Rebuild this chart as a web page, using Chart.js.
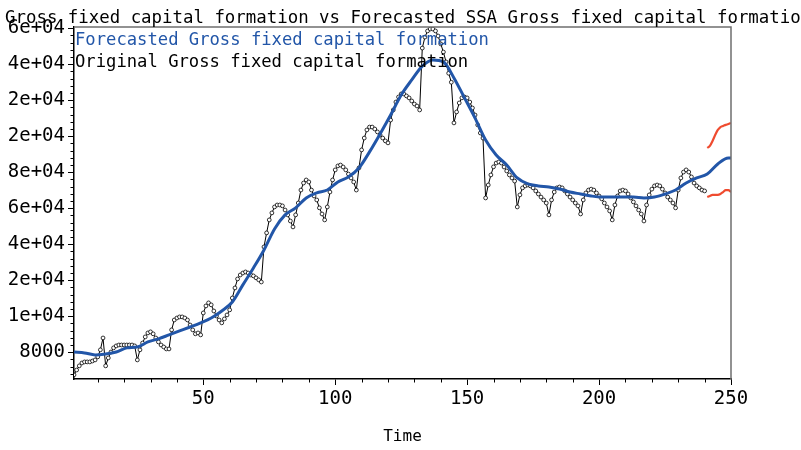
<!DOCTYPE html>
<html>
<head>
<meta charset="utf-8">
<script src="https://cdn.jsdelivr.net/npm/chart.js@4.4.1/dist/chart.umd.min.js"></script>
<style>
  html, body { margin: 0; padding: 0; background: #fff; }
  #wrap { width: 801px; height: 450px; }
</style>
</head>
<body>
<div id="wrap"><canvas id="ssaChart" width="801" height="450"></canvas></div>
<script>
// values in thousands
const titleText = 'Gross fixed capital formation vs Forecasted SSA Gross fixed capital formation';
const legendForecast = 'Forecasted Gross fixed capital formation';
const legendOriginal = 'Original Gross fixed capital formation';

const original = [
  67.4, 70.1, 72.4, 74.0, 74.6, 74.6, 74.6, 75.1, 75.7, 77.4, 81.3, 87.9,
  72.4, 76.8, 80.1, 82.4, 83.5, 84.0, 84.0, 84.0, 84.0, 84.0, 84.0, 83.5,
  75.7, 81.3, 85.1, 88.5, 90.7, 91.3, 90.2, 87.9, 85.7, 84.0, 82.9, 81.8,
  81.8, 92.4, 97.9, 99.0, 99.6, 99.6, 99.0, 97.9, 95.1, 92.4, 90.2, 90.7,
  89.6, 101.8, 105.7, 107.4, 106.3, 102.9, 100.1, 97.9, 96.3, 98.5, 100.7, 103.5,
  110.1, 115.7, 120.7, 122.9, 124.0, 124.6, 124.0, 122.9, 122.4, 121.3, 120.2, 119.0,
  138.5, 146.3, 153.5, 157.4, 160.7, 161.8, 161.8, 161.3, 159.0, 156.3, 152.9, 149.6,
  156.3, 162.9, 170.1, 174.0, 175.7, 174.6, 170.1, 166.8, 164.6, 160.2, 156.8, 153.5,
  160.7, 169.0, 175.7, 181.3, 183.5, 184.0, 182.9, 181.3, 179.0, 176.8, 174.6, 170.1,
  182.4, 192.4, 199.0, 203.5, 205.1, 205.1, 204.0, 202.4, 200.7, 199.0, 197.4, 196.3,
  209.0, 214.6, 219.0, 221.8, 223.5, 223.5, 222.4, 221.3, 219.6, 217.9, 216.8, 214.6,
  249.0, 255.1, 258.5, 259.6, 259.6, 258.5, 255.7, 251.3, 246.8, 241.3, 235.0, 230.0,
  207.4, 213.5, 218.5, 221.3, 221.8, 221.3, 219.0, 215.7, 211.8, 206.3, 201.8, 199.0,
  165.7, 172.9, 178.5, 183.0, 185.1, 185.7, 185.1, 182.9, 180.7, 178.5, 176.8, 175.1,
  160.7, 167.4, 171.3, 172.4, 172.9, 172.4, 171.3, 169.6, 167.9, 166.2, 164.6, 162.9,
  156.3, 164.6, 169.0, 171.3, 171.8, 171.3, 169.6, 167.9, 166.2, 164.6, 162.9, 161.3,
  156.8, 164.6, 168.5, 170.1, 170.6, 170.1, 168.5, 166.8, 165.2, 162.9, 160.7, 158.5,
  153.5, 161.8, 166.8, 169.6, 170.1, 169.6, 167.9, 165.7, 163.5, 161.3, 159.0, 156.8,
  152.9, 161.8, 167.4, 170.6, 172.4, 172.9, 172.4, 170.6, 168.5, 166.2, 164.6, 162.9,
  160.2, 170.1, 176.8, 180.1, 181.3, 180.1, 177.4, 174.0, 172.4, 171.3, 170.1, 169.6
];

const forecastTime = [1, 5, 9, 13, 17, 21, 25, 29, 33, 37, 41, 45, 49, 53, 57, 61, 65, 69, 73, 77,
  81, 85, 89, 93, 97, 101, 105, 109, 113, 117, 121, 125, 129, 133, 137, 141, 145, 149, 153, 157,
  161, 165, 169, 173, 177, 181, 185, 189, 193, 197, 201, 205, 209, 213, 217, 221, 225, 229, 233,
  237, 241, 245, 249, 250];
const forecast = [80.1, 79.6, 78.5, 79.0, 80.1, 82.4, 82.9, 85.7, 87.4, 89.6, 91.8, 94.0, 96.3, 99.0,
  102.9, 107.9, 117.4, 126.8, 136.8, 148.5, 156.3, 160.2, 165.7, 168.5, 170.1, 174.6, 177.4, 182.4,
  191.3, 201.3, 211.8, 222.9, 231.3, 239.0, 242.4, 241.3, 232.4, 221.3, 210.1, 197.9, 189.6, 184.0,
  176.8, 173.5, 172.4, 171.8, 170.7, 169.0, 167.9, 166.8, 166.2, 166.2, 166.2, 166.2, 165.7, 166.2,
  167.9, 170.1, 174.0, 176.8, 179.0, 184.6, 187.9, 187.9];

const boundTime = [241, 242, 243, 244, 245, 246, 247, 248, 249, 250];
const upperBound = [193.5, 194.6, 197.4, 200.7, 203.5, 205.1, 205.7, 206.3, 206.8, 207.4];
const lowerBound = [166.2, 166.8, 167.4, 167.4, 167.4, 167.9, 169.0, 170.1, 170.1, 169.0];

const xMajor = [50, 100, 150, 200, 250];
const xMinor = [10, 20, 30, 40, 60, 70, 80, 90, 110, 120, 130, 140, 160, 170, 180, 190, 210, 220, 230, 240];
const yMajor = [80, 100, 120, 140, 160, 180, 200, 220, 240, 260];
const yLabels = ['8000', '1e+04', '2e+04', '4e+04', '6e+04', '8e+04', '2e+04', '2e+04', '4e+04', '6e+04'];

const mono = "'DejaVu Sans Mono', monospace";
const blue = '#2256a8';
const red = '#ef4b2f';

const pairs = (xs, ys) => ys.map((y, i) => ({ x: xs[i], y: y }));
const originalPts = original.map((v, i) => ({ x: i + 1, y: v }));

// text, frame and minor ticks
const decorations = {
  id: 'decorations',
  afterDraw(chart) {
    const ctx = chart.ctx;
    const area = chart.chartArea;
    const xs = chart.scales.x;
    const ys = chart.scales.y;
    ctx.save();
    // top + right frame
    ctx.strokeStyle = '#6f6f6f';
    ctx.lineWidth = 1.5;
    ctx.beginPath();
    ctx.moveTo(area.left, area.top);
    ctx.lineTo(area.right, area.top);
    ctx.lineTo(area.right, area.bottom);
    ctx.stroke();
    // minor ticks
    ctx.strokeStyle = '#000';
    ctx.lineWidth = 1;
    ctx.beginPath();
    xMinor.forEach(v => {
      const px = Math.round(xs.getPixelForValue(v)) + 0.5;
      ctx.moveTo(px, area.bottom);
      ctx.lineTo(px, area.bottom + 3.5);
    });
    for (let v = 68; v <= 260; v += 4) {
      if (yMajor.includes(v)) continue;
      const py = Math.round(ys.getPixelForValue(v)) + 0.5;
      ctx.moveTo(area.left, py);
      ctx.lineTo(area.left - 3.5, py);
    }
    ctx.stroke();
    // title
    ctx.fillStyle = '#000';
    ctx.textAlign = 'left';
    ctx.textBaseline = 'alphabetic';
    ctx.font = '17.4px ' + mono;
    ctx.fillText(titleText, 5, 23);
    // legend
    ctx.font = '17.2px ' + mono;
    ctx.fillStyle = blue;
    ctx.fillText(legendForecast, 75, 45);
    ctx.fillStyle = '#000';
    ctx.fillText(legendOriginal, 75, 67);
    ctx.restore();
  }
};

const ctx = document.getElementById('ssaChart').getContext('2d');
new Chart(ctx, {
  type: 'line',
  data: {
    datasets: [
      {
        label: legendForecast,
        data: pairs(forecastTime, forecast),
        borderColor: blue,
        borderWidth: 3,
        pointRadius: 0,
        cubicInterpolationMode: 'monotone',
        order: 0
      },
      {
        label: legendOriginal,
        data: originalPts,
        borderColor: '#000',
        borderWidth: 1,
        pointRadius: 1.9,
        pointBorderWidth: 0.8,
        pointBackgroundColor: '#fff',
        pointBorderColor: '#000',
        tension: 0,
        order: 2
      },
      {
        label: 'upper',
        data: pairs(boundTime, upperBound),
        borderColor: red,
        borderWidth: 2.2,
        pointRadius: 0,
        cubicInterpolationMode: 'monotone',
        order: 1
      },
      {
        label: 'lower',
        data: pairs(boundTime, lowerBound),
        borderColor: red,
        borderWidth: 2.2,
        pointRadius: 0,
        cubicInterpolationMode: 'monotone',
        order: 1
      }
    ]
  },
  options: {
    responsive: false,
    animation: false,
    layout: { padding: { left: 0, top: 27, right: 70, bottom: 0 } },
    plugins: {
      legend: { display: false },
      title: { display: false },
      tooltip: { enabled: false }
    },
    scales: {
      x: {
        type: 'linear',
        min: 1,
        max: 250,
        afterBuildTicks: s => { s.ticks = xMajor.map(v => ({ value: v })); },
        afterFit: s => { s.height = 71; },
        grid: { drawOnChartArea: false, drawTicks: true, tickLength: 6, tickColor: '#000' },
        border: { color: '#000', width: 1.5 },
        ticks: { color: '#000', font: { family: mono, size: 19 }, padding: 3, maxRotation: 0 },
        title: { display: true, text: 'Time', color: '#000', font: { family: mono, size: 16 }, padding: { top: 4, bottom: 4 } }
      },
      y: {
        type: 'linear',
        min: 65.1,
        max: 260.7,
        afterBuildTicks: s => { s.ticks = yMajor.map(v => ({ value: v })); },
        afterFit: s => { s.width = 74; },
        grid: { drawOnChartArea: false, drawTicks: true, tickLength: 6, tickColor: '#000' },
        border: { color: '#000', width: 1.5 },
        ticks: {
          color: '#000',
          font: { family: mono, size: 19 },
          padding: 3,
          callback: v => yLabels[yMajor.indexOf(v)]
        }
      }
    }
  },
  plugins: [decorations]
});
</script>
</body>
</html>
